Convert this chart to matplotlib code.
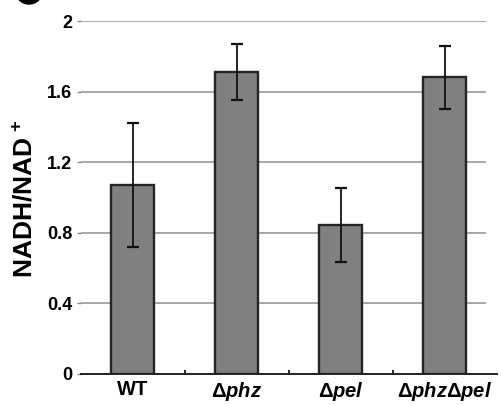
import matplotlib.pyplot as plt
from matplotlib.patches import Ellipse

# Data
strains = ['WT', r'$\Delta\mathit{phz}$', r'$\Delta\mathit{pel}$', r'$\Delta\mathit{phz}\Delta\mathit{pel}$']
ratio = [1.07, 1.71, 0.845, 1.68]
err = [0.35, 0.16, 0.21, 0.177]
yticks = [0, 0.4, 0.8, 1.2, 1.6, 2]
ytick_labels = ['0', '0.4', '0.8', '1.2', '1.6', '2']

plt.rcParams['font.family'] = ['Liberation Sans', 'DejaVu Sans']
plt.rcParams['font.weight'] = 'bold'
plt.rcParams['mathtext.fontset'] = 'custom'
plt.rcParams['mathtext.rm'] = 'Liberation Sans'
plt.rcParams['mathtext.it'] = 'Liberation Sans:bold:italic'
plt.rcParams['mathtext.bf'] = 'Liberation Sans:bold'

fig = plt.figure(figsize=(5.01, 4.05), dpi=100)
ax = fig.add_axes([80.5 / 501, 1 - 374 / 405, 416 / 501, 353 / 405])

x = list(range(len(strains)))

# gridlines
ax.hlines(yticks[1:], -0.5, 3.4, color='#a8a8a8', linewidth=1.4, zorder=0)

ax.bar(x, ratio, width=0.41, color='#808080', edgecolor='#252525', linewidth=1.7, zorder=2)
ax.errorbar(x, ratio, yerr=err, fmt='none', ecolor='#111111', elinewidth=1.3,
            capsize=4, capthick=1.6, zorder=3)

ax.set_xlim(-0.5, 3.5)
ax.set_ylim(0, 2)

for s in ['top', 'right', 'left']:
    ax.spines[s].set_visible(False)
ax.spines['bottom'].set_linewidth(1.4)
ax.spines['bottom'].set_color('#222222')

ax.set_yticks(yticks)
ax.set_yticklabels(ytick_labels, fontsize=13, fontweight='bold')
ax.tick_params(axis='y', length=3, width=1, color='#888888', pad=3)

ax.set_xticks(x)
ax.set_xticklabels(strains, fontsize=14.5, fontweight='bold')
ax.tick_params(axis='x', length=0, pad=4)
ax.set_xticks([0.5, 1.5, 2.5], minor=True)
ax.tick_params(axis='x', which='minor', length=3, width=1.2, direction='in')

ax.set_ylabel(r'NADH/NAD$^{\ \mathbf{+}}$', fontsize=19, fontweight='bold')
ax.yaxis.set_label_coords(-43 / 416, 0.495)

# clipped panel marker in the corner
fig.patches.append(Ellipse((29 / 501, 1 + 8 / 405), 26 / 501, 24 / 405,
                           transform=fig.transFigure, color='black', figure=fig))

fig.savefig('out.png', dpi=100)
